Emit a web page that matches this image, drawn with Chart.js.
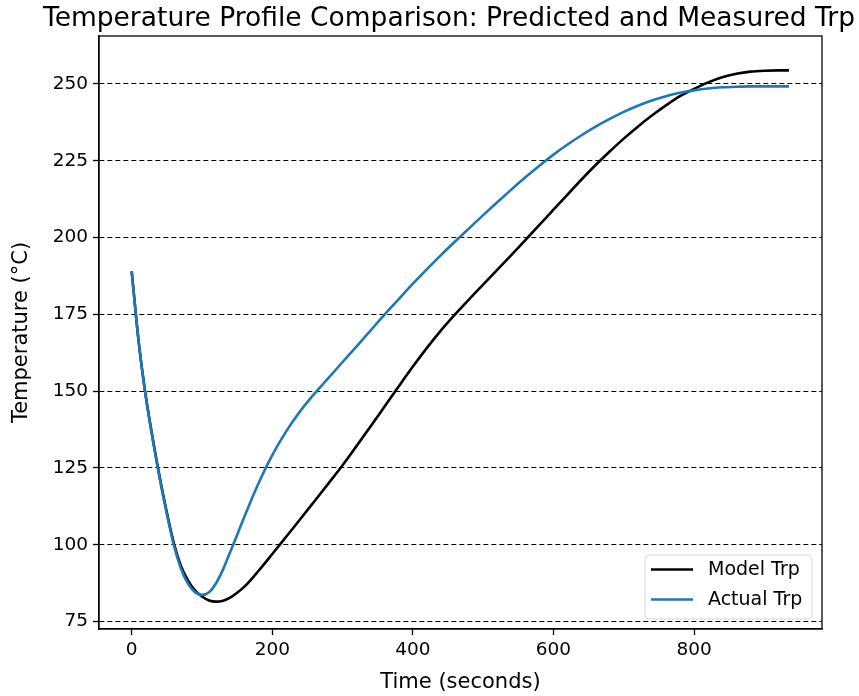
<!DOCTYPE html>
<html>
<head>
<meta charset="utf-8">
<script src="https://cdn.jsdelivr.net/npm/chart.js@4.4.1/dist/chart.umd.min.js"></script>
<style>
  html, body { margin: 0; padding: 0; background: #fff; }
  #wrap { width: 859px; height: 696px; position: relative; }
</style>
</head>
<body>
<div id="wrap"><canvas id="c" width="859" height="696"></canvas></div>
<script>
// ---- Data ----
const chartTitle = "Temperature Profile Comparison: Predicted and Measured Trp";
const xLabel = "Time (seconds)";
const yLabel = "Temperature (°C)";
const seriesNames = ["Model Trp", "Actual Trp"];

const time = [0, 10, 20, 30, 40, 50, 60, 70, 80, 90, 100, 110, 120, 130, 140, 150, 160,
  180, 200, 220, 240, 260, 280, 300, 320, 340, 360, 380, 400, 420, 440, 460, 480, 500,
  520, 540, 560, 580, 600, 620, 640, 660, 680, 700, 720, 740, 760, 780, 800, 820, 840,
  860, 880, 900, 920, 935];

const modelTemp = [189, 166, 148.5, 134.5, 121.8, 110.5, 100.5, 93.2, 88.4, 85.2, 83.2, 81.9, 81.5, 81.8, 82.8, 84.4, 86.3,
  91.4, 97, 102.7, 108.4, 114.2, 120, 125.9, 132.2, 138.6, 145.1, 151.6, 158, 164.1, 169.8, 175, 179.9, 184.7,
  189.5, 194.3, 199.2, 204.1, 209.1, 214, 218.9, 223.6, 228, 232.2, 236.1, 239.7, 243, 246, 248.4, 250.5, 252.2,
  253.3, 254, 254.3, 254.4, 254.4];

const actualTemp = [189, 166, 148.3, 134.2, 121.4, 110, 99.8, 92.3, 87.4, 84.6, 83.7, 84.6, 87.5, 92, 97.6, 103.2, 109,
  119.8, 129.2, 137, 143.6, 149.2, 154.3, 159.5, 164.6, 169.8, 175, 180, 185, 189.7, 194.3, 198.7, 203, 207.3,
  211.5, 215.6, 219.6, 223.4, 227, 230.3, 233.3, 236.1, 238.6, 240.9, 242.9, 244.6, 246, 247.1, 247.9, 248.5, 248.9,
  249.1, 249.2, 249.2, 249.2, 249.2];

const xTicks = [0, 200, 400, 600, 800];
const yTicks = [75, 100, 125, 150, 175, 200, 225, 250];

// ---- Styling ----
const FONT = "'DejaVu Sans', sans-serif";
const modelColor = "#000000";
const actualColor = "#1f77b4";

const toPoints = (xs, ys) => xs.map((x, i) => ({ x: x, y: ys[i] }));

const frameAndLegend = {
  id: 'frameAndLegend',
  afterDraw(chart) {
    const ctx = chart.ctx;
    const a = chart.chartArea;
    ctx.save();
    // full frame
    ctx.strokeStyle = '#000';
    ctx.lineWidth = 1.3;
    ctx.strokeRect(a.left, a.top, a.right - a.left, a.bottom - a.top);

    // title
    ctx.fillStyle = '#000';
    ctx.font = "26.5px " + FONT;
    ctx.textAlign = 'center';
    ctx.textBaseline = 'middle';
    ctx.fillText(chartTitle, 449, 19);

    // legend
    const lx = 645, ly = 555, lw = 167, lh = 64, r = 4;
    ctx.beginPath();
    ctx.moveTo(lx + r, ly);
    ctx.lineTo(lx + lw - r, ly);
    ctx.quadraticCurveTo(lx + lw, ly, lx + lw, ly + r);
    ctx.lineTo(lx + lw, ly + lh - r);
    ctx.quadraticCurveTo(lx + lw, ly + lh, lx + lw - r, ly + lh);
    ctx.lineTo(lx + r, ly + lh);
    ctx.quadraticCurveTo(lx, ly + lh, lx, ly + lh - r);
    ctx.lineTo(lx, ly + r);
    ctx.quadraticCurveTo(lx, ly, lx + r, ly);
    ctx.closePath();
    ctx.fillStyle = 'rgba(255,255,255,0.85)';
    ctx.fill();
    ctx.strokeStyle = '#d6d6d6';
    ctx.lineWidth = 1;
    ctx.stroke();

    const colors = [modelColor, actualColor];
    const rowsY = [569.5, 599.5];
    ctx.font = "19px " + FONT;
    ctx.textAlign = 'left';
    ctx.textBaseline = 'middle';
    for (let i = 0; i < seriesNames.length; i++) {
      ctx.beginPath();
      ctx.strokeStyle = colors[i];
      ctx.lineWidth = 2.6;
      ctx.moveTo(651, rowsY[i]);
      ctx.lineTo(693, rowsY[i]);
      ctx.stroke();
      ctx.fillStyle = '#000';
      ctx.fillText(seriesNames[i], 708, rowsY[i] + 1);
    }
    ctx.restore();
  }
};

new Chart(document.getElementById('c'), {
  type: 'line',
  data: {
    datasets: [
      {
        label: seriesNames[0],
        data: toPoints(time, modelTemp),
        borderColor: modelColor,
        borderWidth: 2.6,
        pointRadius: 0,
        cubicInterpolationMode: 'monotone',
        fill: false,
        order: 1
      },
      {
        label: seriesNames[1],
        data: toPoints(time, actualTemp),
        borderColor: actualColor,
        borderWidth: 2.6,
        pointRadius: 0,
        cubicInterpolationMode: 'monotone',
        fill: false,
        order: 0
      }
    ]
  },
  options: {
    responsive: false,
    animation: false,
    devicePixelRatio: 1,
    layout: { padding: { left: 0, top: 36, right: 37, bottom: 0 } },
    plugins: {
      legend: { display: false },
      title: { display: false },
      tooltip: { enabled: false }
    },
    scales: {
      x: {
        type: 'linear',
        min: -46.5,
        max: 982,
        afterBuildTicks: (s) => { s.ticks = xTicks.map(v => ({ value: v })); },
        afterFit: (s) => { s.height = 67; },
        grid: {
          display: true,
          drawOnChartArea: false,
          drawTicks: true,
          tickLength: 6,
          tickColor: '#000',
          tickWidth: 1.3
        },
        border: { display: true, color: '#000', width: 1.3 },
        ticks: {
          color: '#000',
          font: { family: FONT, size: 18.5 },
          padding: 4,
          maxRotation: 0,
          autoSkip: false
        },
        title: {
          display: true,
          text: xLabel,
          color: '#000',
          font: { family: FONT, size: 21 },
          padding: { top: 0, bottom: 1 }
        }
      },
      y: {
        type: 'linear',
        min: 72.6,
        max: 265.6,
        afterBuildTicks: (s) => { s.ticks = yTicks.map(v => ({ value: v })); },
        afterFit: (s) => { s.width = 99; },
        grid: {
          display: true,
          drawOnChartArea: true,
          drawTicks: true,
          color: '#000',
          lineWidth: 1,
          tickLength: 6,
          tickColor: '#000',
          tickWidth: 1.3
        },
        border: { display: true, color: '#000', width: 1.3, dash: [5, 3] },
        ticks: {
          color: '#000',
          font: { family: FONT, size: 18.5 },
          padding: 5,
          autoSkip: false
        },
        title: {
          display: true,
          text: yLabel,
          color: '#000',
          font: { family: FONT, size: 21 },
          padding: { top: 9, bottom: 0 }
        }
      }
    }
  },
  plugins: [frameAndLegend]
});
</script>
</body>
</html>
